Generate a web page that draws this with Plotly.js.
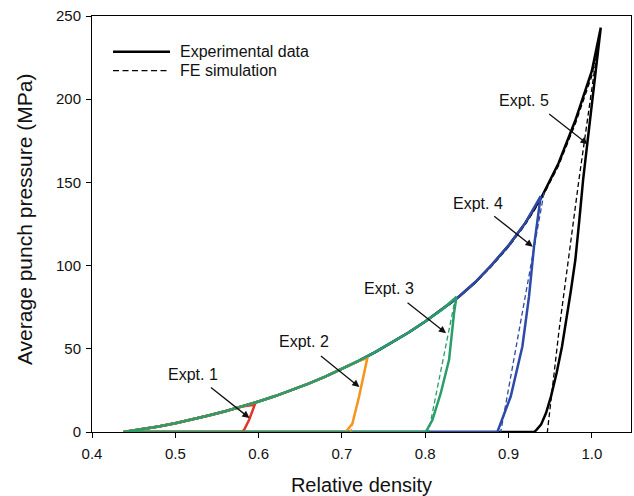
<!DOCTYPE html>
<html>
<head>
<meta charset="utf-8">
<script src="https://cdn.plot.ly/plotly-3.0.1.min.js"></script>
<style>html,body{margin:0;padding:0;background:#fff;}#chart{width:634px;height:496px;}</style>
</head>
<body>
<div id="chart"></div>
<script>
// Experimental loading envelope (relative density, MPa)
const envX = [0.438,0.46,0.48,0.50,0.52,0.54,0.56,0.58,0.60,0.62,0.64,0.66,0.68,0.70,0.72,0.74,0.76,0.78,0.80,0.82,0.84,0.86,0.88,0.90,0.92,0.94,0.96,0.98,1.00,1.0107];
const envY = [0,1.5,3.3,5.3,7.5,9.9,12.5,15.3,18.3,21.6,25.2,29.1,33.3,37.8,42.7,48.0,53.7,59.8,66.4,73.5,81.1,90,100.5,112,125.5,141.5,161.5,187,217,243];

// FE simulation loading envelope
const feEnvX = [0.438,0.46,0.48,0.50,0.52,0.54,0.56,0.58,0.60,0.62,0.64,0.66,0.68,0.70,0.72,0.74,0.76,0.78,0.80,0.82,0.84,0.86,0.88,0.90,0.92,0.94,0.96,0.98,1.00,1.009];
const feEnvY = [0,1.4,3.2,5.1,7.3,9.7,12.3,15.1,18.1,21.4,25.0,28.9,33.1,37.6,42.5,47.8,53.5,59.6,66.2,73.3,80.9,89.6,99.8,111.2,124.6,140.5,160,185,214,238];

// Experimental unloading branches (from peak down to zero pressure)
const exp1X = [0.5953,0.5885,0.5825,0.5797];
const exp1Y = [16.3,7.2,1.2,0];
const exp2X = [0.7305,0.7265,0.7205,0.7125,0.7045];
const exp2Y = [44.4,35,21,5,0];
const exp3X = [0.8374,0.8346,0.8286,0.8186,0.8086,0.8006];
const exp3Y = [81.1,71.5,43.4,23.3,7.2,0];
const exp4X = [0.9386,0.9306,0.9246,0.9166,0.9026,0.8926,0.8866];
const exp4Y = [141.8,111.6,81.5,51.4,21.3,7.2,0];
const exp5X = [1.0107,0.9895,0.9850,0.9802,0.9750,0.9697,0.9642,0.9577,0.9510,0.9450,0.9390,0.9330,0.9306];
const exp5Y = [243,151.5,127.5,103.5,85.5,67.5,51.4,35.4,21.4,11.4,4.4,1.0,0];

// FE unloading branches
const fe2X = [0.7305,0.7105];
const fe2Y = [44,0];
const fe3X = [0.8366,0.8040];
const fe3Y = [81.5,0];
const fe4X = [0.9426,0.8906];
const fe4Y = [143.8,0];
const fe5X = [1.009,0.9846,0.9606,0.9466];
const fe5Y = [238,152,61,0];

const fillDensity = 0.438;

const names = ["Expt. 1","Expt. 2","Expt. 3","Expt. 4","Expt. 5"];
const colors = ["#e3342b","#f7941e","#2a9d6a","#2e49a8","#000000"];
const legendLabels = ["Experimental data","FE simulation"];
const xTitle = "Relative density";
const yTitle = "Average punch pressure (MPa)";
const xTicks = [0.4,0.5,0.6,0.7,0.8,0.9,1.0];
const xTickText = ['0.4','0.5','0.6','0.7','0.8','0.9','1.0'];
const yTicks = [0,50,100,150,200,250];
// annotation label positions and arrow tail/head (data coordinates)
const labelX = [0.521,0.655,0.757,0.863,0.919];
const labelY = [34.4,54.2,86.4,137.4,199.4];
const tailX = [0.541,0.673,0.777,0.881,0.947];
const tailY = [27.4,46.4,78.4,130.4,191.8];
const headX = [0.589,0.721,0.825,0.929,0.995];
const headY = [8.4,27.0,59.4,111.4,173.0];

function buildExp(ux, uy) {
  const px = ux[0];
  const xs = [], ys = [];
  for (let i = 0; i < envX.length; i++) {
    if (envX[i] < px) { xs.push(envX[i]); ys.push(envY[i]); }
  }
  for (let i = 0; i < ux.length; i++) { xs.push(ux[i]); ys.push(uy[i]); }
  xs.push(fillDensity); ys.push(0);
  return [xs, ys];
}

const FE_DASH = '5px,3px';
const expData = [[exp1X,exp1Y],[exp2X,exp2Y],[exp3X,exp3Y],[exp4X,exp4Y],[exp5X,exp5Y]];
const order = [4,3,0,1,2];
const traces = [];

// FE envelope + Expt 5 FE (black dashed)
traces.push({x: feEnvX.concat(fe5X.slice(1)), y: feEnvY.concat(fe5Y.slice(1)), mode:'lines',
  line:{color:'#000', width:1.3, dash:FE_DASH}, showlegend:false, hoverinfo:'skip'});

order.forEach(k => {
  const [xs, ys] = buildExp(expData[k][0], expData[k][1]);
  traces.push({x: xs, y: ys, mode:'lines', line:{color:colors[k], width:2.5},
    name: names[k], showlegend:false, hoverinfo:'skip'});
});

const feData = [[fe2X,fe2Y,1],[fe3X,fe3Y,2],[fe4X,fe4Y,3]];
feData.forEach(d => {
  traces.push({x:d[0], y:d[1], mode:'lines', line:{color:colors[d[2]], width:1.3, dash:FE_DASH},
    showlegend:false, hoverinfo:'skip'});
});

const annotations = [];
for (let k = 0; k < 5; k++) {
  annotations.push({x:labelX[k], y:labelY[k], xref:'x', yref:'y', text:names[k], showarrow:false,
    font:{size:16, color:'#111'}});
  annotations.push({x:headX[k], y:headY[k], ax:tailX[k], ay:tailY[k], xref:'x', yref:'y', axref:'x', ayref:'y',
    text:'', showarrow:true, arrowhead:2, arrowsize:1.1, arrowwidth:1.3, arrowcolor:'#111'});
}
// legend (drawn in paper coordinates)
const legY = [0.9142, 0.8686];
annotations.push({x:0.1596, y:legY[0], xref:'paper', yref:'paper', xanchor:'left', yanchor:'middle',
  text:legendLabels[0], showarrow:false, font:{size:16, color:'#111'}});
annotations.push({x:0.1596, y:legY[1], xref:'paper', yref:'paper', xanchor:'left', yanchor:'middle',
  text:legendLabels[1], showarrow:false, font:{size:16, color:'#111'}});
// y-axis title
annotations.push({x:-0.124, y:0.51, xref:'paper', yref:'paper', xanchor:'center', yanchor:'middle',
  text:yTitle, textangle:-90, showarrow:false, font:{size:21, color:'#111'}});

const shapes = [
  {type:'line', xref:'paper', yref:'paper', x0:0.039, x1:0.1447, y0:legY[0], y1:legY[0], line:{color:'#000', width:2.5}},
  {type:'line', xref:'paper', yref:'paper', x0:0.039, x1:0.1447, y0:legY[1], y1:legY[1], line:{color:'#000', width:1.3, dash:'6px,3.5px'}}
];

const layout = {
  width:634, height:496,
  margin:{l:92, r:3, t:16, b:64},
  paper_bgcolor:'#fff', plot_bgcolor:'#fff',
  font:{family:'"Liberation Sans", Arial, Helvetica, sans-serif', color:'#111'},
  showlegend:false,
  xaxis:{range:[0.4,1.047], tickvals:xTicks, ticktext:xTickText,
    ticks:'outside', ticklen:5, tickcolor:'#000', showline:true, linecolor:'#000', linewidth:1, mirror:true,
    showgrid:false, zeroline:false, tickfont:{size:15}, ticklabelstandoff:3,
    title:{text:xTitle, font:{size:20}, standoff:16}},
  yaxis:{range:[0,250], tickvals:yTicks, ticks:'outside', ticklen:5, tickcolor:'#000',
    showline:true, linecolor:'#000', linewidth:1, mirror:true, showgrid:false, zeroline:false,
    tickfont:{size:15}, ticklabelstandoff:2},
  annotations: annotations,
  shapes: shapes
};

Plotly.newPlot('chart', traces, layout, {displayModeBar:false, staticPlot:true});
</script>
</body>
</html>
